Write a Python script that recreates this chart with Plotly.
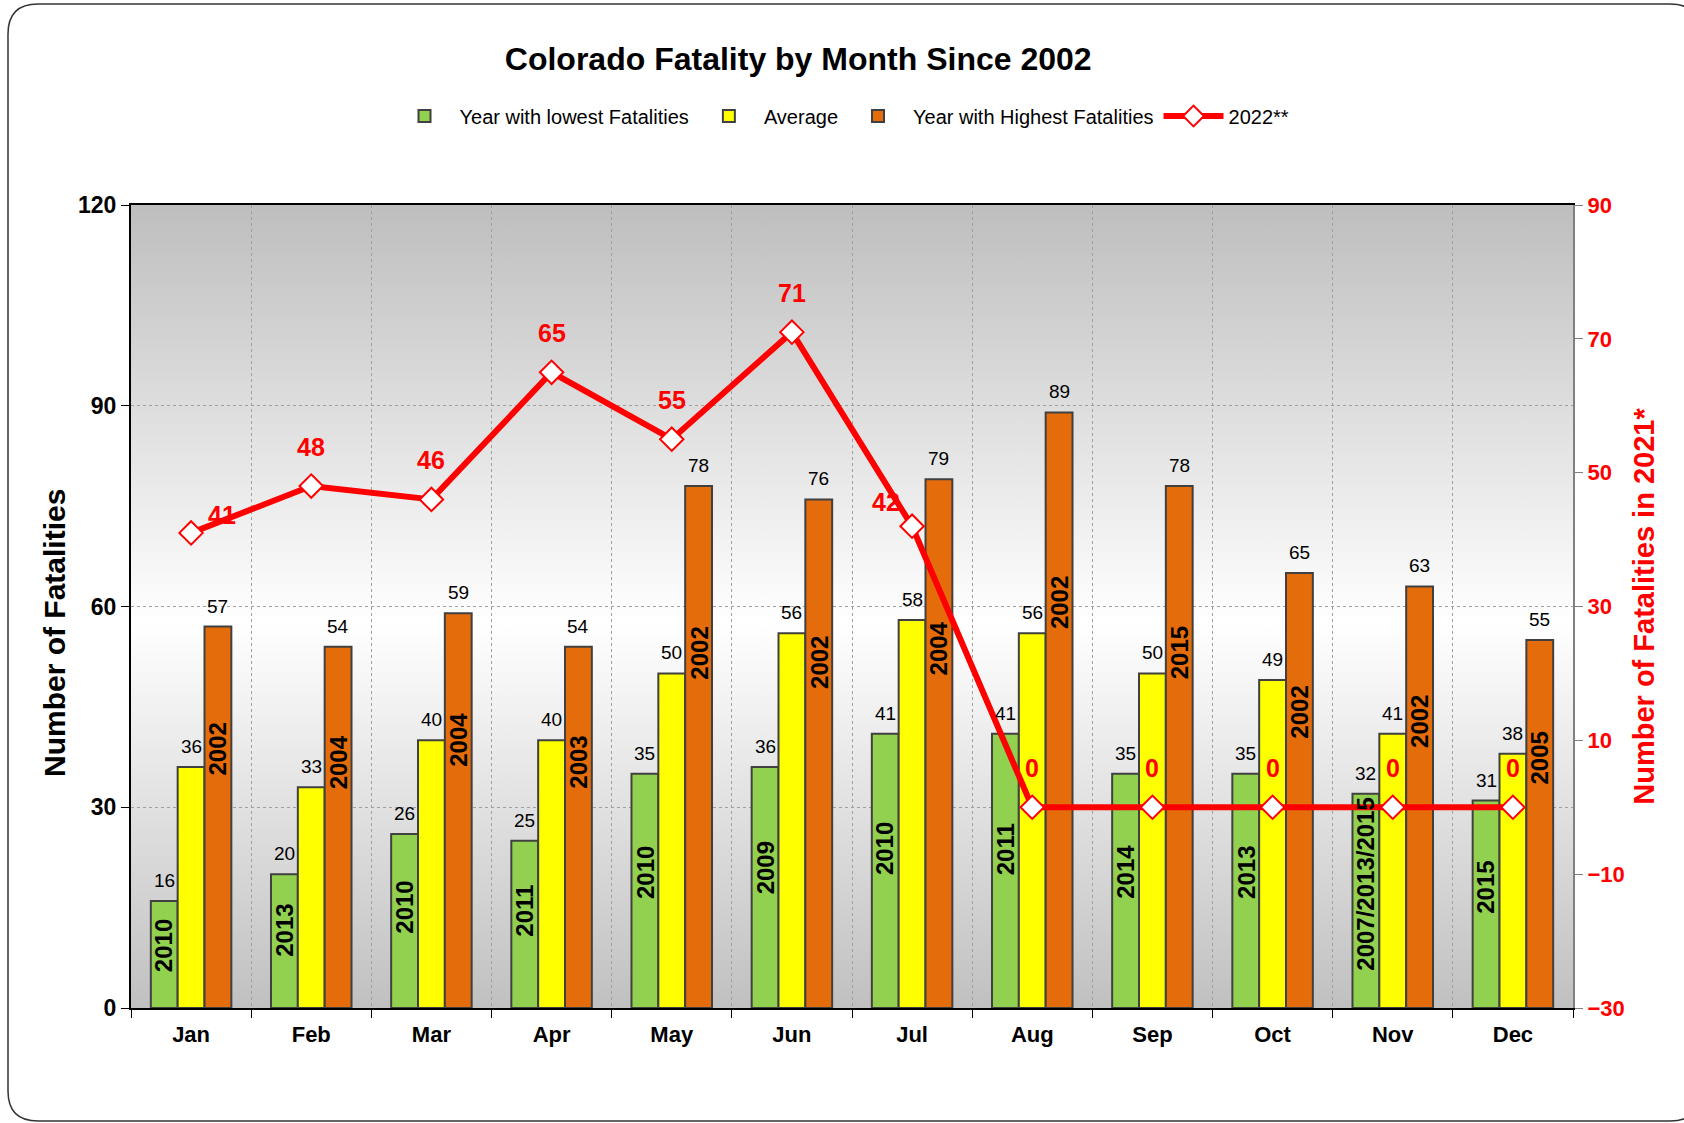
import base64
import plotly.graph_objects as go

# ---------------- data ----------------
months = ["Jan", "Feb", "Mar", "Apr", "May", "Jun", "Jul", "Aug", "Sep", "Oct", "Nov", "Dec"]
lowest = [16, 20, 26, 25, 35, 36, 41, 41, 35, 35, 32, 31]
lowest_year = ["2010", "2013", "2010", "2011", "2010", "2009", "2010", "2011", "2014", "2013",
               "2007/2013/2015", "2015"]
average = [36, 33, 40, 40, 50, 56, 58, 56, 50, 49, 41, 38]
highest = [57, 54, 59, 54, 78, 76, 79, 89, 78, 65, 63, 55]
highest_year = ["2002", "2004", "2004", "2003", "2002", "2002", "2004", "2002", "2015", "2002",
                "2002", "2005"]
fat_2022 = [41, 48, 46, 65, 55, 71, 42, 0, 0, 0, 0, 0]

# ---------------- style ----------------
W, H = 1684, 1123
PL, PR, PT, PB = 131, 1573, 205, 1008          # plot area pixel edges
BARGAP = 0.33
ARIAL = "Liberation Sans, Arial"
GREEN, YELLOW, ORANGE, RED = "#92D050", "#FFFF00", "#E46C0A", "#FF0000"
EDGE = "#404040"
GRID = "#A0A0A0"
# label offset (pixels) for the 2022 line labels
line_label_shift = {"Jan": (31, 18), "Jul": (-26, 24)}
default_line_shift = (0, 39)
GREEN_FRAC, ORANGE_FRAC = 0.58, 0.68


def px_to_paper(px, py):
    return (px - PL) / (PR - PL), (PB - py) / (PB - PT)


fig = go.Figure()
bar_style = dict(marker_line_color=EDGE, marker_line_width=2, hoverinfo="x+y")
fig.add_trace(go.Bar(x=months, y=lowest, name="Year with lowest Fatalities",
                     marker_color=GREEN, **bar_style))
fig.add_trace(go.Bar(x=months, y=average, name="Average", marker_color=YELLOW, **bar_style))
fig.add_trace(go.Bar(x=months, y=highest, name="Year with Highest Fatalities",
                     marker_color=ORANGE, **bar_style))
fig.add_trace(go.Scatter(x=months, y=fat_2022, name="2022**", yaxis="y2",
                         mode="lines+markers",
                         line=dict(color=RED, width=6),
                         marker=dict(symbol="diamond", size=18, color="white",
                                     line=dict(color=RED, width=2))))

annotations = []
bw = (1 - BARGAP) / 3
offsets = [-bw, 0, bw]
# value labels above bars
for series, off in zip([lowest, average, highest], offsets):
    for i, v in enumerate(series):
        annotations.append(dict(x=i + off, y=v, xref="x", yref="y", text=str(v),
                                showarrow=False, yanchor="bottom", yshift=8,
                                font=dict(family=ARIAL, size=19, color="black")))
# year labels inside bars
for years, series, off, frac in [(lowest_year, lowest, offsets[0], GREEN_FRAC),
                                 (highest_year, highest, offsets[2], ORANGE_FRAC)]:
    for i, (yr, v) in enumerate(zip(years, series)):
        annotations.append(dict(x=i + off, y=v * frac, xref="x", yref="y", text=yr,
                                textangle=-90, showarrow=False,
                                xanchor="center", yanchor="middle",
                                font=dict(family=ARIAL, size=24, color="black", weight="bold")))
# 2022 line labels
for i, (m, v) in enumerate(zip(months, fat_2022)):
    dx, dy = line_label_shift.get(m, default_line_shift)
    annotations.append(dict(x=i, y=v, xref="x", yref="y2", text=str(v), showarrow=False,
                            xshift=dx, yshift=dy, yanchor="middle",
                            font=dict(family=ARIAL, size=25, color=RED, weight="bold")))
# left axis title (placed lower than centre, as in the original)
tx, ty = px_to_paper(54, 633)
annotations.append(dict(x=tx, y=ty, xref="paper", yref="paper", text="Number of Fatalities",
                        textangle=-90, showarrow=False, xanchor="center", yanchor="middle",
                        font=dict(family=ARIAL, size=30, color="black", weight="bold")))

# gradient background (svg image)
svg = ('<svg xmlns="http://www.w3.org/2000/svg" width="100" height="100" preserveAspectRatio="none">'
       '<defs><linearGradient id="g" x1="0" y1="0" x2="0" y2="1">'
       '<stop offset="0" stop-color="#BEBEBE"/>'
       '<stop offset="0.52" stop-color="#FFFFFF"/>'
       '<stop offset="1" stop-color="#C0C0C0"/>'
       '</linearGradient></defs><rect width="100" height="100" fill="url(#g)"/></svg>')
svg_uri = "data:image/svg+xml;base64," + base64.b64encode(svg.encode()).decode()

# outer rounded border
x0, y0 = px_to_paper(8, 4)
x1, y1 = px_to_paper(1700, 1121)
rx = 30 / (PR - PL)
ry = 30 / (PB - PT)
border_path = (f"M{x0 + rx},{y0} L{x1 - rx},{y0} Q{x1},{y0} {x1},{y0 - ry} "
               f"L{x1},{y1 + ry} Q{x1},{y1} {x1 - rx},{y1} L{x0 + rx},{y1} "
               f"Q{x0},{y1} {x0},{y1 + ry} L{x0},{y0 - ry} Q{x0},{y0} {x0 + rx},{y0} Z")

fig.update_layout(
    width=W, height=H,
    margin=dict(l=PL, r=W - PR, t=PT, b=H - PB, pad=0),
    paper_bgcolor="white", plot_bgcolor="rgba(0,0,0,0)",
    barmode="group", bargap=BARGAP, bargroupgap=0,
    title=dict(text="Colorado Fatality by Month Since 2002", x=0.474, xanchor="center",
               y=1 - 59 / H, yanchor="middle", xref="container", yref="container",
               font=dict(family=ARIAL, size=32, color="black", weight="bold")),
    legend=dict(orientation="h", x=0.5, xanchor="center", y=1 - 116 / H, yanchor="middle",
                xref="container", yref="container",
                font=dict(family=ARIAL, size=20, color="black"),
                itemwidth=60, tracegroupgap=0, bgcolor="rgba(0,0,0,0)"),
    xaxis=dict(type="category", range=[-0.5, 11.5], tickson="boundaries",
               ticks="outside", ticklen=8, tickcolor="black", tickwidth=1,
               ticklabelstandoff=6,
               showline=True, linecolor="black", linewidth=2, mirror=True,
               showgrid=True, gridcolor=GRID, griddash="dot", gridwidth=1,
               tickfont=dict(family=ARIAL, size=22, color="black", weight="bold"),
               zeroline=False),
    yaxis=dict(range=[0, 120], dtick=30, ticks="outside", ticklen=8, tickcolor="black",
               showline=True, linecolor="black", linewidth=2,
               showgrid=True, gridcolor=GRID, griddash="dot", gridwidth=1,
               zeroline=False,
               tickfont=dict(family=ARIAL, size=23, color="black", weight="bold")),
    yaxis2=dict(range=[-30, 90], tick0=-30, dtick=20, overlaying="y", side="right",
                ticks="outside", ticklen=8, tickcolor="#808080",
                showline=True, linecolor="#808080", linewidth=2,
                showgrid=False, zeroline=False,
                tickfont=dict(family=ARIAL, size=22, color=RED, weight="bold"),
                title=dict(text="Number of Fatalities in 2021*", standoff=10,
                           font=dict(family=ARIAL, size=29, color=RED, weight="bold"))),
    annotations=annotations,
    images=[dict(source=svg_uri, xref="paper", yref="paper", x=0, y=1, sizex=1, sizey=1,
                 sizing="stretch", layer="below", xanchor="left", yanchor="top")],
    shapes=[dict(type="path", path=border_path, xref="paper", yref="paper",
                 line=dict(color="#333333", width=1.5), fillcolor="rgba(0,0,0,0)",
                 layer="below")],
)

fig.write_html("out.html", config={"displayModeBar": False},
               post_script="document.body.style.margin='0';")
